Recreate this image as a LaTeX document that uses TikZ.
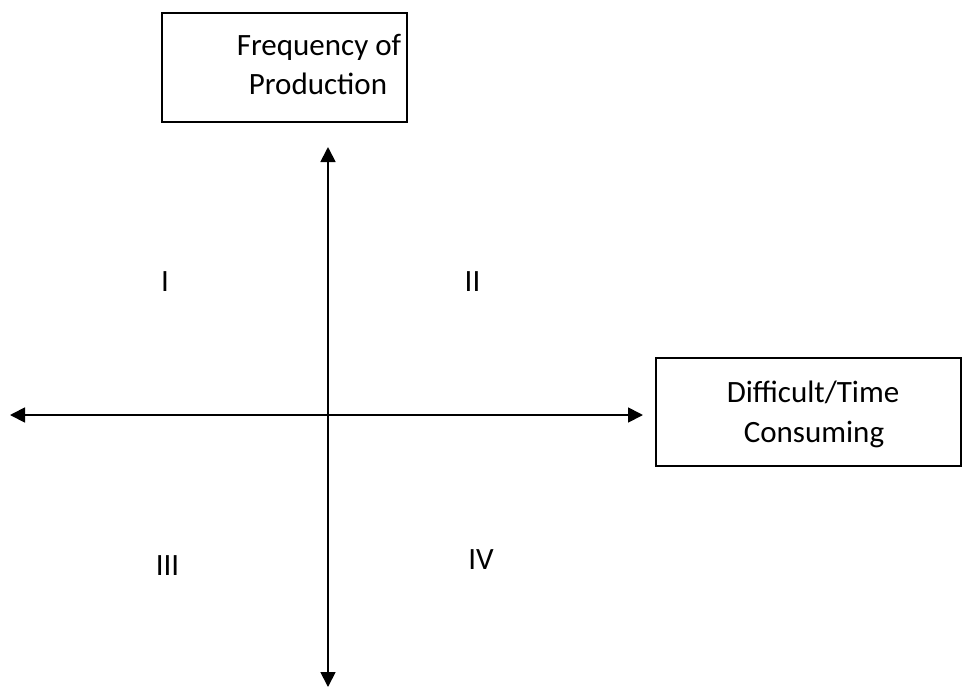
\documentclass[tikz,border=0pt]{standalone}
\usepackage{fontspec}
\setmainfont{Carlito}
\usetikzlibrary{arrows.meta}
\begin{document}
\begin{tikzpicture}[x=1pt,y=-1pt,
  axis/.style={line width=1.8pt,{Triangle[length=15pt,width=15pt]}-{Triangle[length=15pt,width=15pt]}},
  labelbox/.style={draw,line width=1.3pt,inner sep=0pt},
  txt/.style={font=\fontsize{31}{38}\selectfont,inner sep=0pt,anchor=base}]
\useasboundingbox (0,0) rectangle (962,689);
\node[labelbox,minimum width=245pt,minimum height=109pt] (freq) at (284.5,67.5) {};
\node[txt] (freq1) at (319,55) {Frequency of};
\node[txt] (freq2) at (318,94) {Production};
\node[labelbox,minimum width=305pt,minimum height=108pt] (diff) at (808.5,412) {};
\node[txt] (diff1) at (813,402) {Difficult/Time};
\node[txt] (diff2) at (814,442) {Consuming};
\coordinate (top) at (328,147);
\coordinate (bot) at (328,687);
\coordinate (left) at (10,415);
\coordinate (right) at (643,415);
\draw[axis] (bot) -- (top);
\draw[axis] (left) -- (right);
\node[txt] (q1) at (165,291) {I};
\node[txt] (q2) at (472.5,291) {II};
\node[txt] (q3) at (167.5,575) {III};
\node[txt] (q4) at (481,569) {IV};
\end{tikzpicture}
\end{document}
